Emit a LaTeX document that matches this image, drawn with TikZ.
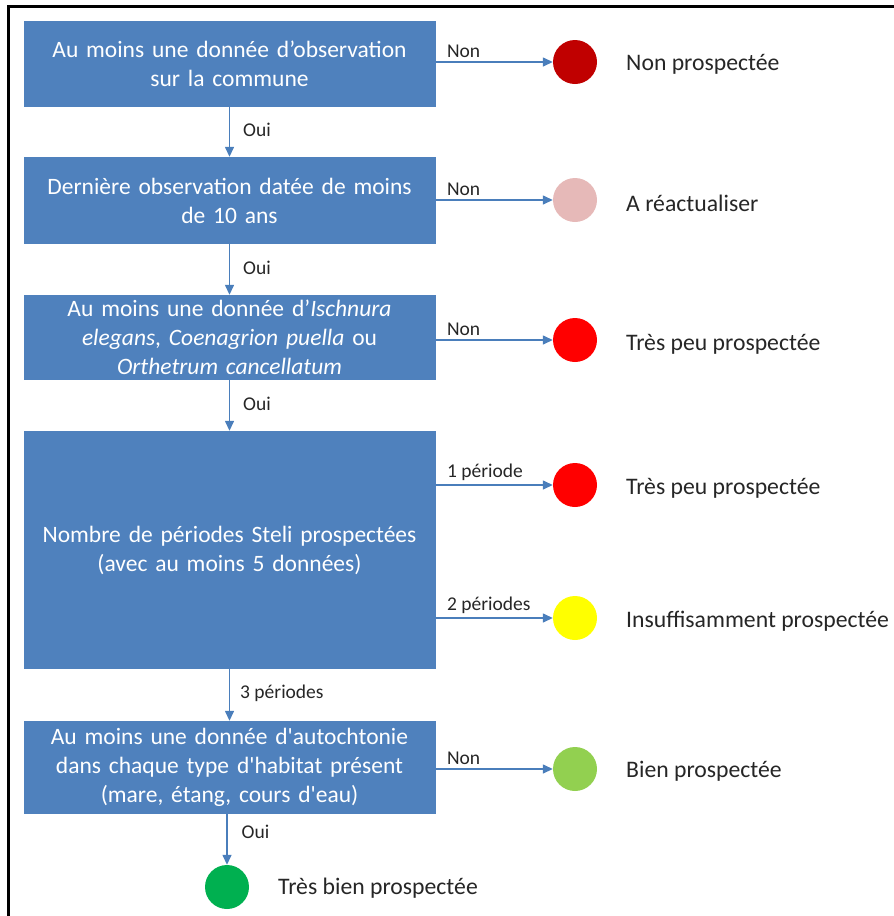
\documentclass[tikz,border=0pt]{standalone}
\usepackage{fontspec}
\setmainfont{Carlito}
\usetikzlibrary{arrows.meta}
\definecolor{boxblue}{HTML}{4F81BD}
\definecolor{arrowblue}{HTML}{4A7EBB}
\definecolor{txtgray}{HTML}{262626}
\definecolor{cdarkred}{HTML}{C00000}
\definecolor{cpink}{HTML}{E6B9B8}
\definecolor{cred}{HTML}{FF0000}
\definecolor{cyellow}{HTML}{FFFF00}
\definecolor{clgreen}{HTML}{92D050}
\definecolor{cgreen}{HTML}{00B050}
\newcommand{\sq}{\textquotesingle}
\tikzset{
  decbox/.style={fill=boxblue, draw=none, minimum width=412pt, inner sep=0pt,
    text=white, align=center, text width=408pt,
    font=\fontsize{23.5}{29}\selectfont},
  dot/.style={circle, fill=#1, draw=none, minimum size=44pt, inner sep=0pt},
  result/.style={anchor=west, text=txtgray, inner sep=0pt, font=\fontsize{23.7}{28}\selectfont},
  flow/.style={draw=arrowblue, line width=1.4pt, -{Triangle[length=10pt,width=9pt]}},
  elabel/.style={text=txtgray, inner sep=0pt, font=\fontsize{19.5}{23}\selectfont},
}
\begin{document}
\begin{tikzpicture}[x=1pt,y=-1pt]
\useasboundingbox (0,0) rectangle (894,916);
% frame (top and left edges visible)
\draw[line width=3pt] (8,916) -- (8,6.5) -- (894,6.5);

% boxes
\node[decbox, minimum height=86pt] (b1) at (229.5,64) {Au moins une donnée d’observation\\sur la commune};
\node[decbox, minimum height=87pt] (b2) at (229.5,200.5) {Dernière observation datée de moins\\de 10 ans};
\node[decbox, minimum height=85pt] (b3) at (229.5,337.5) {Au moins une donnée d’\textit{Ischnura}\\\textit{elegans}, \textit{Coenagrion puella} ou\\\textit{Orthetrum cancellatum}};
\node[decbox, minimum height=238pt] (b4) at (229.5,550) {Nombre de périodes Steli prospectées\\(avec au moins 5 données)};
\node[decbox, minimum height=93pt] (b5) at (229.5,767.5) {Au moins une donnée d\sq autochtonie\\dans chaque type d\sq habitat présent\\(mare, étang, cours d\sq eau)};

% circles
\node[dot=cdarkred] (c1) at (575,62) {};
\node[dot=cpink] (c2) at (575,200) {};
\node[dot=cred] (c3) at (575,340) {};
\node[dot=cred] (c4) at (575,485) {};
\node[dot=cyellow] (c5) at (575,618) {};
\node[dot=clgreen] (c6) at (575,769) {};
\node[dot=cgreen] (c7) at (227,887) {};

% result labels
\node[result] (r1) at (626,64) {Non prospectée};
\node[result] (r2) at (626,203) {A réactualiser};
\node[result] (r3) at (626,344) {Très peu prospectée};
\node[result] (r4) at (626,488) {Très peu prospectée};
\node[result] (r5) at (626,621) {Insuffisamment prospectée};
\node[result] (r6) at (626,771) {Bien prospectée};
\node[result] (r7) at (278,888) {Très bien prospectée};

% horizontal connectors
\draw[flow] (b1.east |- c1) -- (c1.west) node[elabel, pos=0.1, above=4pt, anchor=south west, xshift=-1pt] {Non};
\draw[flow] (b2.east |- c2) -- (c2.west) node[elabel, pos=0.1, above=4pt, anchor=south west, xshift=-1pt] {Non};
\draw[flow] (b3.east |- c3) -- (c3.west) node[elabel, pos=0.1, above=4pt, anchor=south west, xshift=-1pt] {Non};
\draw[flow] (b4.east |- c4) -- (c4.west) node[elabel, pos=0.1, above=4pt, anchor=south west, xshift=-1pt] {1 période};
\draw[flow] (b4.east |- c5) -- (c5.west) node[elabel, pos=0.1, above=4pt, anchor=south west, xshift=-1pt] {2 périodes};
\draw[flow] (b5.east |- c6) -- (c6.west) node[elabel, pos=0.1, above=4pt, anchor=south west, xshift=-1pt] {Non};

% vertical connectors
\draw[flow] (b1.south) -- (b2.north) node[elabel, midway, anchor=west, xshift=13pt, yshift=2pt] {Oui};
\draw[flow] (b2.south) -- (b3.north) node[elabel, midway, anchor=west, xshift=13pt, yshift=2pt] {Oui};
\draw[flow] (b3.south) -- (b4.north) node[elabel, midway, anchor=west, xshift=13pt, yshift=2pt] {Oui};
\draw[flow] (b4.south) -- (b5.north) node[elabel, midway, anchor=west, xshift=10pt, yshift=2pt] {3 périodes};
\draw[flow] (b5.south -| c7) -- (c7.north) node[elabel, pos=0.35, anchor=west, xshift=14pt] {Oui};
\end{tikzpicture}
\end{document}
